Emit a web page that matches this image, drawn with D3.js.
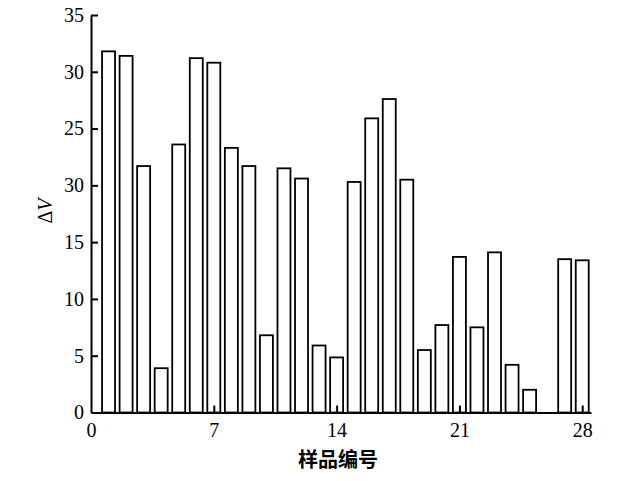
<!DOCTYPE html>
<html>
<head>
<meta charset="utf-8">
<script src="https://cdn.jsdelivr.net/npm/d3@7"></script>
<style>
  body { margin: 0; background: #fff; }
  svg text { font-family: "Liberation Serif", "Times New Roman", serif; }
</style>
</head>
<body>
<div id="chart"></div>
<script>
// sample numbers 1..28 and the measured delta V (sample 26 has no bar)
var samples = d3.range(1, 29);
var deltaV = [31.8, 31.4, 21.7, 3.9, 23.6, 31.2, 30.8, 23.3, 21.7, 6.8,
              21.5, 20.6, 5.9, 4.85, 20.3, 25.9, 27.6, 20.5, 5.5, 7.7,
              13.7, 7.5, 14.1, 4.2, 2.0, null, 13.5, 13.4];
var xTicks = [0, 7, 14, 21, 28];
var yTicks = [0, 5, 10, 15, 20, 25, 30, 35];
// tick labels as printed in the original figure
var yTickLabels = ["0", "5", "10", "15", "30", "25", "30", "35"];

var W = 643, H = 481;

var svg = d3.select("#chart")
  .append("svg")
    .attr("width", W)
    .attr("height", H);

var x = d3.scaleLinear()
  .domain([0, 28.5])
  .range([91, 591]);

var y = d3.scaleLinear()
  .domain([0, 35])
  .range([412.5, 15]);

var barW = x(0.74) - x(0);

// bars
svg.append("g")
  .selectAll("rect")
  .data(samples.filter(function(d, i) { return deltaV[i] != null; }))
  .enter()
  .append("rect")
    .attr("x", function(d) { return x(d) - barW / 2; })
    .attr("y", function(d) { return y(deltaV[d - 1]); })
    .attr("width", barW)
    .attr("height", function(d) { return y(0) - y(deltaV[d - 1]); })
    .attr("fill", "#fff")
    .attr("stroke", "#000")
    .attr("stroke-width", 1.8);

// x axis, ticks pointing inward
var gx = svg.append("g")
  .attr("transform", "translate(0," + y(0) + ")")
  .call(d3.axisBottom(x)
    .tickValues(xTicks)
    .tickSize(-7)
    .tickSizeOuter(0)
    .tickPadding(10)
    .tickFormat(d3.format("d")));

// y axis, ticks pointing inward
var gy = svg.append("g")
  .attr("transform", "translate(" + x(0) + ",0)")
  .call(d3.axisLeft(y)
    .tickValues(yTicks)
    .tickSize(-7)
    .tickSizeOuter(0)
    .tickPadding(7)
    .tickFormat(function(d, i) { return yTickLabels[i]; }));

[gx, gy].forEach(function(g) {
  g.select(".domain").attr("stroke", "#000").attr("stroke-width", 2);
  g.selectAll(".tick line").attr("stroke", "#000").attr("stroke-width", 2);
  g.selectAll(".tick text")
    .attr("fill", "#000")
    .style("font-family", "'Liberation Serif', 'Times New Roman', serif")
    .style("font-size", "20px");
});
gx.select(".tick line").attr("stroke", "none");
gy.select(".tick line").attr("stroke", "none");

// axis titles
svg.append("text")
  .attr("x", 338)
  .attr("y", 467)
  .attr("text-anchor", "middle")
  .style("font-family", "'Noto Sans CJK SC', sans-serif")
  .style("font-weight", "bold")
  .style("font-size", "20px")
  .text("样品编号");

var yl = svg.append("text")
  .attr("transform", "translate(52,211) rotate(-90)")
  .attr("text-anchor", "middle")
  .style("font-size", "20px");
yl.append("tspan").text("Δ");
yl.append("tspan").style("font-style", "italic").text("V");
</script>
</body>
</html>
